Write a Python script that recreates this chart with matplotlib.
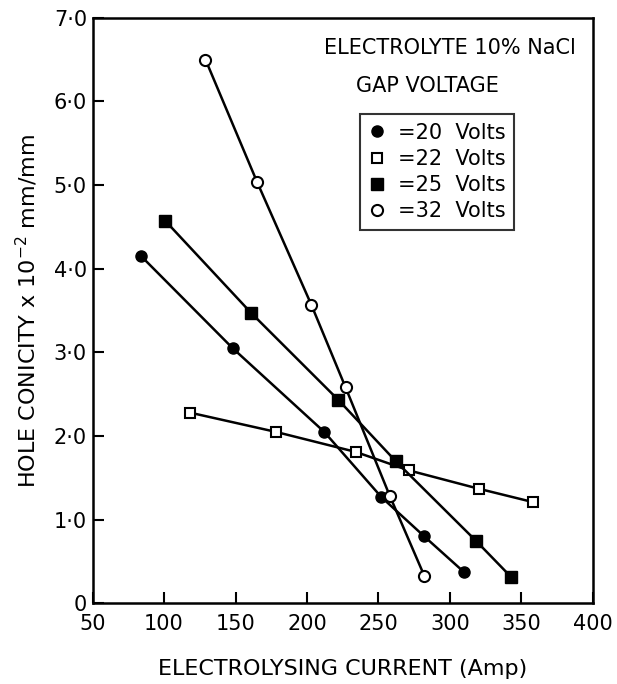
import matplotlib
matplotlib.use('Agg')
import matplotlib.pyplot as plt
from matplotlib.lines import Line2D

plt.rcParams['font.family'] = ['DejaVu Sans']

# 20 Volts (filled circles)
x20 = [84, 148, 212, 252, 282, 310]
y20 = [4.15, 3.05, 2.05, 1.27, 0.80, 0.37]
# 22 Volts (open squares)
x22 = [118, 178, 234, 271, 320, 358]
y22 = [2.28, 2.05, 1.81, 1.59, 1.37, 1.21]
# 25 Volts (filled squares)
x25 = [101, 161, 222, 262, 318, 343]
y25 = [4.57, 3.47, 2.43, 1.70, 0.75, 0.31]
# 32 Volts (open circles)
x32 = [129, 165, 203, 227, 258, 282]
y32 = [6.50, 5.04, 3.57, 2.58, 1.28, 0.33]

xticks = [50, 100, 150, 200, 250, 300, 350, 400]
yticks = [0, 1, 2, 3, 4, 5, 6, 7]
ytick_labels = ['0', '1·0', '2·0', '3·0', '4·0', '5·0', '6·0', '7·0']
legend_labels = ['=20  Volts', '=22  Volts', '=25  Volts', '=32  Volts']

fig = plt.figure(figsize=(6.17, 6.84), dpi=100)
ax = fig.add_axes([0.150, 0.118, 0.811, 0.856])

lw = 1.8
ms = 8
ax.plot(x20, y20, '-', color='black', lw=lw, marker='o', ms=ms,
        mfc='black', mec='black')
ax.plot(x22, y22, '-', color='black', lw=lw, marker='s', ms=ms - 1,
        mfc='white', mec='black', mew=1.5)
ax.plot(x25, y25, '-', color='black', lw=lw, marker='s', ms=ms,
        mfc='black', mec='black')
ax.plot(x32, y32, '-', color='black', lw=lw, marker='o', ms=ms,
        mfc='white', mec='black', mew=1.5)

ax.set_xlim(50, 400)
ax.set_ylim(0, 7)
ax.set_xticks(xticks)
ax.set_xticklabels([str(v) for v in xticks])
ax.set_yticks(yticks)
ax.set_yticklabels(ytick_labels)
ax.tick_params(direction='in', length=8, width=1.5, labelsize=15)
ax.tick_params(axis='x', pad=8)
ax.tick_params(axis='y', pad=4)
for s in ax.spines.values():
    s.set_linewidth(1.8)

ax.set_xlabel('ELECTROLYSING CURRENT (Amp)', fontsize=16, labelpad=18)
ax.set_ylabel('HOLE CONICITY x 10$^{-2}$ mm/mm', fontsize=16, labelpad=10)

ax.text(0.715, 0.948, 'ELECTROLYTE 10% NaCl', transform=ax.transAxes,
        ha='center', va='center', fontsize=15)
ax.text(0.67, 0.884, 'GAP VOLTAGE', transform=ax.transAxes,
        ha='center', va='center', fontsize=15)

handles = [
    Line2D([], [], ls='none', marker='o', ms=ms, mfc='black', mec='black'),
    Line2D([], [], ls='none', marker='s', ms=ms - 1, mfc='white', mec='black', mew=1.5),
    Line2D([], [], ls='none', marker='s', ms=ms, mfc='black', mec='black'),
    Line2D([], [], ls='none', marker='o', ms=ms, mfc='white', mec='black', mew=1.5),
]
leg = ax.legend(handles, legend_labels, loc='upper left',
                bbox_to_anchor=(0.514, 0.853), fontsize=15, frameon=True,
                fancybox=False, edgecolor='black', handlelength=0.8,
                handletextpad=0.6, labelspacing=0.3, borderpad=0.4)
leg.get_frame().set_linewidth(1.5)

fig.savefig('out.png', dpi=100)
